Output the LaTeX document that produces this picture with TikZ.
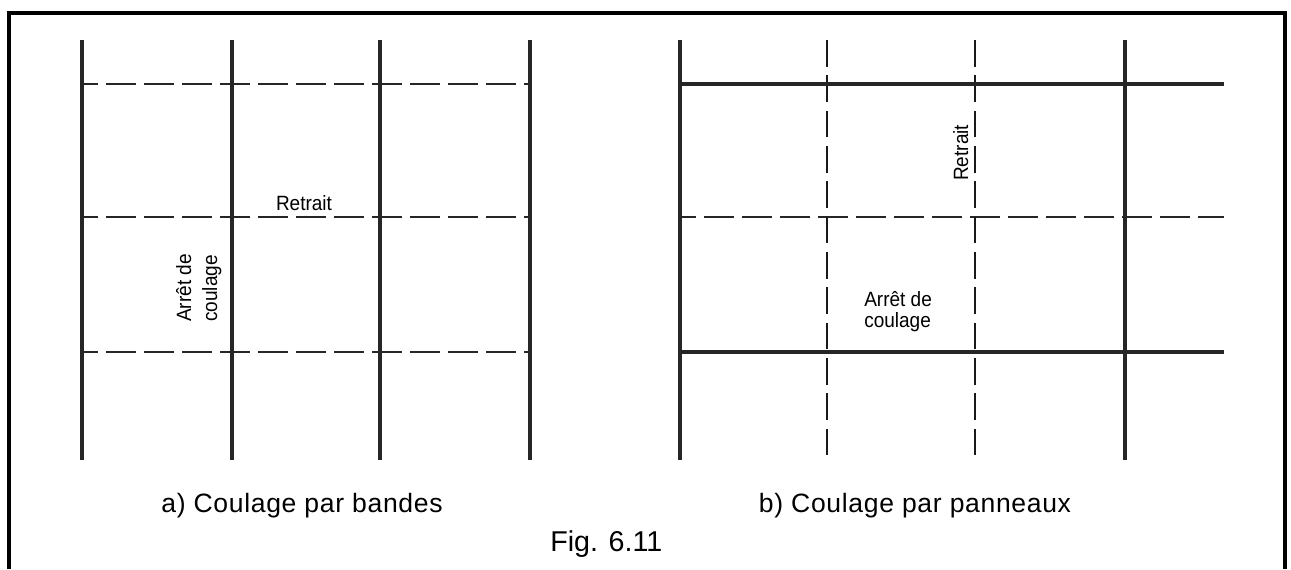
\documentclass[tikz,border=0pt]{standalone}
\usepackage{fontspec}
\setmainfont{Liberation Sans}
\newfontfamily\labfont{Liberation Sans}[FakeStretch=0.92]
\newfontfamily\capfont{Liberation Sans}[LetterSpace=2.5]
\begin{document}
\begin{tikzpicture}[x=0.75pt,y=-0.75pt,
  frame/.style={line width=2.3pt,black},
  solidline/.style={line width=2.6pt,black!85},
  hdash/.style={line width=2.2pt,black!85,dash pattern=on 22.5pt off 6pt,dash phase=10.5pt},
  vdash/.style={line width=2.1pt,black!90,dash pattern=on 20pt off 6.5pt},
  lab/.style={inner sep=0pt,font=\labfont\fontsize{15.5pt}{18pt}\selectfont},
  captext/.style={inner sep=0pt,font=\capfont\fontsize{19.9pt}{24pt}\selectfont},
  figtext/.style={inner sep=0pt,font=\fontsize{21.5pt}{26pt}\selectfont}]
\useasboundingbox (0,0) rectangle (1291,569);
% frame
\draw[frame,line join=miter] (9,569) -- (9,13) -- (1285,13) -- (1285,569);
% ---- left panel: coulage par bandes
\foreach \y in {84,217,352} \draw[hdash] (82,\y) -- (530,\y);
\foreach \x in {82,232,380,530} \draw[solidline] (\x,40) -- (\x,460);
\node[lab,anchor=base] (retA) at (304,210) {Retrait};
\node[lab,rotate=90,anchor=base west] (arrA1) at (191,322) {Arrêt de};
\node[lab,rotate=90,anchor=base west] (arrA2) at (217,322) {coulage};
% ---- right panel: coulage par panneaux
\draw[hdash] (680,217) -- (1224,217);
\foreach \x in {827,975} \draw[vdash] (\x,40) -- (\x,460);
\foreach \y in {84,352} \draw[solidline] (680,\y) -- (1224,\y);
\foreach \x in {680,1125} \draw[solidline] (\x,40) -- (\x,460);
\node[lab,rotate=90,anchor=base west] (retB) at (968,181) {Retrait};
\node[lab,anchor=base west] (arrB1) at (864,306) {Arrêt de};
\node[lab,anchor=base west] (arrB2) at (864,327) {coulage};
% captions
\node[captext,anchor=base] (capA) at (302,512) {a) Coulage par bandes};
\node[captext,anchor=base] (capB) at (915,512) {b) Coulage par panneaux};
\node[figtext,anchor=base west] (fig) at (550,551) {Fig. 6.11};
\end{tikzpicture}
\end{document}
